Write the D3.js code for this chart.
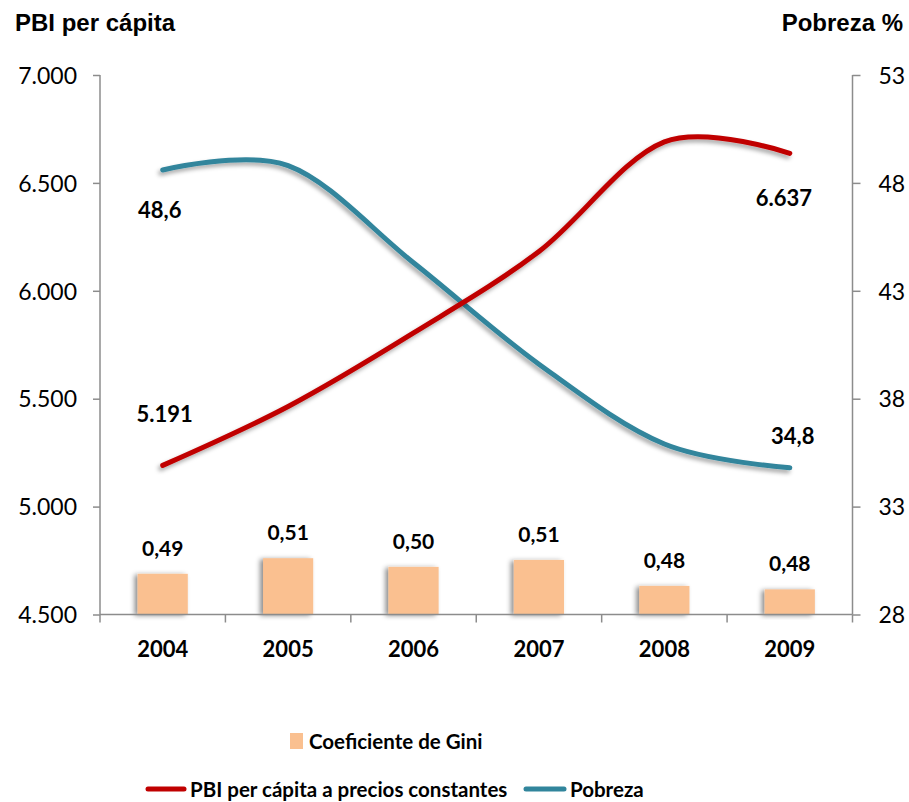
<!DOCTYPE html>
<html>
<head>
<meta charset="utf-8">
<script src="https://cdn.jsdelivr.net/npm/d3@7"></script>
<style>
  html, body { margin: 0; padding: 0; background: #fff; }
  svg { display: block; }
</style>
</head>
<body>
<div id="chart"></div>
<script>
// ---- Data ----
const years = ["2004", "2005", "2006", "2007", "2008", "2009"];
const pbi = [5191, 5464, 5805, 6182, 6690, 6637];
const pobreza = [48.6, 48.8, 44.3, 39.6, 35.9, 34.8];
const gini = [0.494, 0.512, 0.502, 0.510, 0.480, 0.476];
const leftTicks = [4500, 5000, 5500, 6000, 6500, 7000];
const rightTicks = [28, 33, 38, 43, 48, 53];
const pbiLabelIdx = [0, 5];
const pobLabelIdx = [0, 5];

const W = 909, H = 802;
const svg = d3.select("#chart").append("svg").attr("width", W).attr("height", H);

const defs = svg.append("defs");
const f1 = defs.append("filter").attr("id", "shLine").attr("x", "-10%").attr("y", "-20%").attr("width", "120%").attr("height", "150%");
f1.append("feDropShadow").attr("dx", -2).attr("dy", 3).attr("stdDeviation", 2).attr("flood-color", "#000").attr("flood-opacity", 0.35);
const f2 = defs.append("filter").attr("id", "shBar").attr("x", "-40%").attr("y", "-20%").attr("width", "160%").attr("height", "140%");
f2.append("feDropShadow").attr("dx", -3).attr("dy", 1).attr("stdDeviation", 2.5).attr("flood-color", "#000").attr("flood-opacity", 0.45);

const locale = d3.formatLocale({ decimal: ",", thousands: ".", grouping: [3], currency: ["", ""] });
const fmtThousands = locale.format(",d");
const fmt1 = locale.format(".1f");
const fmt2 = locale.format(".2f");

const x0 = 100, x1 = 852.5, yTop = 75, yBot = 614.5;
const x = d3.scaleBand().domain(years).range([x0, x1]).padding(0);
const yL = d3.scaleLinear().domain([4500, 7000]).range([yBot, yTop]);
const yR = d3.scaleLinear().domain([28, 53]).range([yBot, yTop]);
const yG = d3.scaleLinear().domain([0.447, 1.07]).range([yBot, yTop]);

const axisColor = "#8c8c8c";
const calibri = "Lato, 'Open Sans', sans-serif";
const arial = "'Liberation Sans', Arial, sans-serif";

// Bars (Gini)
const bw = x.bandwidth() * 0.4;
svg.append("g").selectAll("rect").data(gini).join("rect")
  .attr("x", (d, i) => x(years[i]) + x.bandwidth() / 2 - bw / 2)
  .attr("y", d => yG(d))
  .attr("width", bw)
  .attr("height", d => yBot - yG(d))
  .attr("fill", "#FAC090")
  .attr("filter", "url(#shBar)");

svg.append("g").selectAll("text").data(gini).join("text")
  .attr("x", (d, i) => x(years[i]) + x.bandwidth() / 2)
  .attr("y", d => yG(d) - 18)
  .attr("text-anchor", "middle")
  .attr("font-family", calibri).attr("font-weight", "bold").attr("font-size", 21)
  .attr("fill", "#000")
  .text(d => fmt2(d));

// Axes
const axL = d3.axisLeft(yL).tickValues(leftTicks).tickSize(7).tickFormat(fmtThousands);
const gL = svg.append("g").attr("transform", `translate(${x0},0)`).call(axL);
const axR = d3.axisRight(yR).tickValues(rightTicks).tickSize(8).tickFormat(d => d);
const gR = svg.append("g").attr("transform", `translate(${x1},0)`).call(axR);
const axB = d3.axisBottom(x).tickSize(0).tickFormat(d => d);
const gB = svg.append("g").attr("transform", `translate(0,${yBot})`).call(axB);

[gL, gR, gB].forEach(g => {
  g.select(".domain").attr("stroke", axisColor).attr("stroke-width", 1.5);
  g.selectAll(".tick line").attr("stroke", axisColor).attr("stroke-width", 1.5);
});
gL.select(".domain").attr("d", `M0,${yBot}V${yTop}`);
gR.select(".domain").attr("d", `M0,${yBot}V${yTop}`);
gB.select(".domain").attr("d", `M${x0},0H${x1}`);
gL.selectAll(".tick text").attr("x", -23).attr("font-family", calibri).attr("font-size", 23).attr("fill", "#000").attr("dy", "0.36em");
gR.selectAll(".tick text").attr("x", 26).attr("font-family", calibri).attr("font-size", 23).attr("fill", "#000").attr("dy", "0.36em");
gB.selectAll(".tick text").attr("y", 0).attr("dy", 0).attr("transform", "translate(0,42)")
  .attr("font-family", calibri).attr("font-weight", "bold").attr("font-size", 22).attr("fill", "#000");

// category boundary ticks
const bounds = years.map(d => x(d)).concat([x1]);
svg.append("g").selectAll("line").data(bounds).join("line")
  .attr("x1", d => d).attr("x2", d => d)
  .attr("y1", yBot).attr("y2", yBot + 8)
  .attr("stroke", axisColor).attr("stroke-width", 1.5);

// Lines
const cx = (i) => x(years[i]) + x.bandwidth() / 2;
const lineL = d3.line().x((d, i) => cx(i)).y(d => yL(d)).curve(d3.curveCatmullRom.alpha(0));
const lineR = d3.line().x((d, i) => cx(i)).y(d => yR(d)).curve(d3.curveCatmullRom.alpha(0));

svg.append("path").datum(pobreza).attr("d", lineR)
  .attr("fill", "none").attr("stroke", "#31859C").attr("stroke-width", 5).attr("stroke-linecap", "round")
  .attr("filter", "url(#shLine)");
svg.append("path").datum(pbi).attr("d", lineL)
  .attr("fill", "none").attr("stroke", "#C00000").attr("stroke-width", 5).attr("stroke-linecap", "round")
  .attr("filter", "url(#shLine)");

// Data labels for lines
const lblFont = (s) => s.attr("font-family", calibri).attr("font-weight", "bold").attr("font-size", 22).attr("fill", "#000");
const pbiOffsets = { 0: [2, -43], 5: [-6, 53] };
svg.append("g").selectAll("text").data(pbiLabelIdx).join("text")
  .attr("x", i => cx(i) + pbiOffsets[i][0])
  .attr("y", i => yL(pbi[i]) + pbiOffsets[i][1])
  .attr("text-anchor", "middle").call(lblFont)
  .text(i => fmtThousands(pbi[i]));
const pobOffsets = { 0: [-3, 48], 5: [3, -24] };
svg.append("g").selectAll("text").data(pobLabelIdx).join("text")
  .attr("x", i => cx(i) + pobOffsets[i][0])
  .attr("y", i => yR(pobreza[i]) + pobOffsets[i][1])
  .attr("text-anchor", "middle").call(lblFont)
  .text(i => fmt1(pobreza[i]));

// Axis titles
svg.append("text").attr("x", 15).attr("y", 31).attr("font-family", arial).attr("font-weight", "bold").attr("font-size", 24).attr("fill", "#000").text("PBI per cápita");
svg.append("text").attr("x", 903).attr("y", 31).attr("text-anchor", "end").attr("font-family", arial).attr("font-weight", "bold").attr("font-size", 24).attr("fill", "#000").text("Pobreza %");

// Legend
const legFont = (s) => s.attr("font-family", calibri).attr("font-weight", "bold").attr("font-size", 20.5).attr("fill", "#000");
const leg = svg.append("g");
leg.append("rect").attr("x", 290).attr("y", 733).attr("width", 13).attr("height", 16).attr("fill", "#FAC090");
leg.append("text").attr("x", 309).attr("y", 749).call(legFont).text("Coeficiente de Gini");
leg.append("line").attr("x1", 148).attr("x2", 184).attr("y1", 789).attr("y2", 789).attr("stroke", "#C00000").attr("stroke-width", 5).attr("stroke-linecap", "round");
leg.append("text").attr("x", 190).attr("y", 797).call(legFont).text("PBI per cápita a precios constantes");
leg.append("line").attr("x1", 526).attr("x2", 564).attr("y1", 789).attr("y2", 789).attr("stroke", "#31859C").attr("stroke-width", 5).attr("stroke-linecap", "round");
leg.append("text").attr("x", 570).attr("y", 797).call(legFont).text("Pobreza");
</script>
</body>
</html>
